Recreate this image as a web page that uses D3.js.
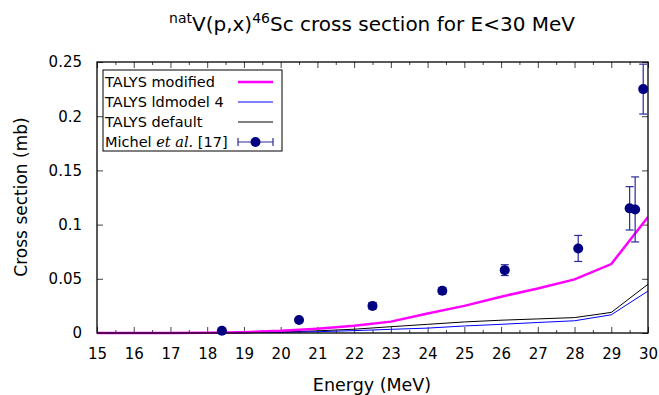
<!DOCTYPE html>
<html><head><meta charset="utf-8">
<script src="https://cdn.jsdelivr.net/npm/d3@7"></script>
<style>
body{margin:0;background:#fff;}
svg text{font-family:"DejaVu Sans",Verdana,sans-serif;fill:#000;}
</style></head>
<body><svg id="c" width="659" height="395"></svg>
<script>
const energies = [15,16,17,18,19,20,21,22,23,24,25,26,27,28,29,30];
const talysModified = [0,0,0,0.0002,0.0008,0.002,0.004,0.0067,0.0105,0.018,0.025,0.0335,0.041,0.0495,0.0636,0.107];
const talysLd4 = [0,0,0,0,0.0002,0.0006,0.0012,0.0022,0.0034,0.0045,0.0065,0.008,0.0097,0.0113,0.0168,0.0387];
const talysDefault = [0,0,0,0,0.0003,0.001,0.002,0.0035,0.0058,0.008,0.0102,0.0118,0.013,0.0142,0.019,0.045];
const michelE = [18.4,20.5,22.5,24.4,26.1,28.1,29.5,29.65,29.87];
const michelXS = [0.002,0.012,0.025,0.039,0.058,0.078,0.115,0.114,0.225];
const michelErr = [0.001,0.001,0.003,0.003,0.005,0.012,0.02,0.03,0.023];
const xTicks = [15,16,17,18,19,20,21,22,23,24,25,26,27,28,29,30];
const yTicks = [0,0.05,0.1,0.15,0.2,0.25];
const yTickLabels = ["0","0.05","0.1","0.15","0.2","0.25"];

const svg = d3.select("#c");
const L=97,R=648,T=62,B=333;
const x = d3.scaleLinear().domain([15,30]).range([L,R]);
const y = d3.scaleLinear().domain([0,0.25]).range([B,T]);

const gx = svg.append("g").attr("transform",`translate(0,${B})`)
  .call(d3.axisBottom(x).tickValues(xTicks).tickSize(6).tickPadding(8).tickFormat(d3.format("d")));
const gxm = svg.append("g").attr("transform",`translate(0,${B})`)
  .call(d3.axisBottom(x).tickValues(d3.range(15.5,30,1)).tickSize(3).tickFormat(""));
const gxt = svg.append("g").attr("transform",`translate(0,${T})`)
  .call(d3.axisTop(x).tickValues(xTicks).tickSize(6).tickFormat(""));
const gxtm = svg.append("g").attr("transform",`translate(0,${T})`)
  .call(d3.axisTop(x).tickValues(d3.range(15.5,30,1)).tickSize(3).tickFormat(""));
const gy = svg.append("g").attr("transform",`translate(${L},0)`)
  .call(d3.axisLeft(y).tickValues(yTicks).tickSize(6).tickPadding(9).tickFormat((d,i)=>yTickLabels[i]));
const gyr = svg.append("g").attr("transform",`translate(${R},0)`)
  .call(d3.axisRight(y).tickValues(yTicks).tickSize(6).tickFormat(""));
[gx,gxm,gxt,gxtm,gy,gyr].forEach(g=>{
  g.select(".domain").remove();
  g.selectAll(".tick line").attr("stroke","#444").attr("stroke-width",1);
});
gx.selectAll(".tick line").attr("y2",-6);
gxm.selectAll(".tick line").attr("y2",-3);
gxt.selectAll(".tick line").attr("y2",6);
gxtm.selectAll(".tick line").attr("y2",3);
gy.selectAll(".tick line").attr("x2",6);
gyr.selectAll(".tick line").attr("x2",-6);
gx.selectAll(".tick text").attr("font-size",15).attr("y",15);
gy.selectAll(".tick text").attr("font-size",15);

svg.append("defs").append("clipPath").attr("id","pc").append("rect")
  .attr("x",L).attr("y",T-12).attr("width",R-L).attr("height",B-T+14);

const line = d3.line().x((d,i)=>x(energies[i])).y(d=>y(d));
const pg = svg.append("g").attr("clip-path","url(#pc)");
pg.append("path").datum(talysDefault).attr("d",line).attr("fill","none").attr("stroke","#000").attr("stroke-width",1);
pg.append("path").datum(talysLd4).attr("d",line).attr("fill","none").attr("stroke","#0000ff").attr("stroke-width",1);
pg.append("path").datum(talysModified).attr("d",line).attr("fill","none").attr("stroke","#ff00ff").attr("stroke-width",2.5);

svg.append("rect").attr("x",L).attr("y",T).attr("width",R-L).attr("height",B-T)
  .attr("fill","none").attr("stroke","#000").attr("stroke-width",1.3);

const eb = svg.append("g").attr("stroke","#2a2a9a").attr("stroke-width",1.2);
michelE.forEach((e,i)=>{
  const cx=x(e), y1=y(michelXS[i]+michelErr[i]), y2=y(michelXS[i]-michelErr[i]);
  eb.append("line").attr("x1",cx).attr("x2",cx).attr("y1",y1).attr("y2",y2);
  eb.append("line").attr("x1",cx-4).attr("x2",cx+4).attr("y1",y1).attr("y2",y1);
  eb.append("line").attr("x1",cx-4).attr("x2",cx+4).attr("y1",y2).attr("y2",y2);
});
svg.append("g").selectAll("circle").data(michelXS).join("circle")
  .attr("cx",(d,i)=>x(michelE[i])).attr("cy",d=>y(d)).attr("r",5).attr("fill","#000080");

const lg = svg.append("g");
lg.append("rect").attr("x",103).attr("y",70).attr("width",179).attr("height",81)
  .attr("fill","#fff").attr("stroke","#000").attr("stroke-width",1);
const items = [
  {t:"TALYS modified",c:"#ff00ff",w:2.5},
  {t:"TALYS ldmodel 4",c:"#0000ff",w:1},
  {t:"TALYS default",c:"#000",w:1}
];
items.forEach((it,i)=>{
  const yy = 82+i*20;
  lg.append("text").attr("x",105).attr("y",yy).attr("dy","0.35em").attr("font-size",14.5).text(it.t);
  lg.append("line").attr("x1",238).attr("x2",273).attr("y1",yy).attr("y2",yy).attr("stroke",it.c).attr("stroke-width",it.w);
});
const my = 142;
const mt = lg.append("text").attr("x",105).attr("y",my).attr("dy","0.35em").attr("font-size",14.5);
mt.append("tspan").text("Michel ");
mt.append("tspan").attr("font-style","italic").attr("font-family","DejaVu Serif").text("et al.");
mt.append("tspan").text(" [17]");
lg.append("line").attr("x1",238).attr("x2",273).attr("y1",my).attr("y2",my).attr("stroke","#2a2a9a").attr("stroke-width",1.2);
lg.append("line").attr("x1",238).attr("x2",238).attr("y1",my-4).attr("y2",my+4).attr("stroke","#2a2a9a").attr("stroke-width",1.2);
lg.append("line").attr("x1",273).attr("x2",273).attr("y1",my-4).attr("y2",my+4).attr("stroke","#2a2a9a").attr("stroke-width",1.2);
lg.append("circle").attr("cx",255.5).attr("cy",my).attr("r",5).attr("fill","#000080");

const tt = svg.append("text").attr("x",372).attr("y",31).attr("text-anchor","middle").attr("font-size",20);
tt.append("tspan").attr("font-size",14).attr("dy",-8).text("nat");
tt.append("tspan").attr("dy",8).text("V(p,x)");
tt.append("tspan").attr("font-size",14).attr("dy",-8).text("46");
tt.append("tspan").attr("dy",8).text("Sc cross section for E<30 MeV");

svg.append("text").attr("x",372).attr("y",391).attr("text-anchor","middle").attr("font-size",17.5).text("Energy (MeV)");
svg.append("text").attr("transform","translate(27,197) rotate(-90)").attr("text-anchor","middle").attr("font-size",17).text("Cross section (mb)");
</script></body></html>
